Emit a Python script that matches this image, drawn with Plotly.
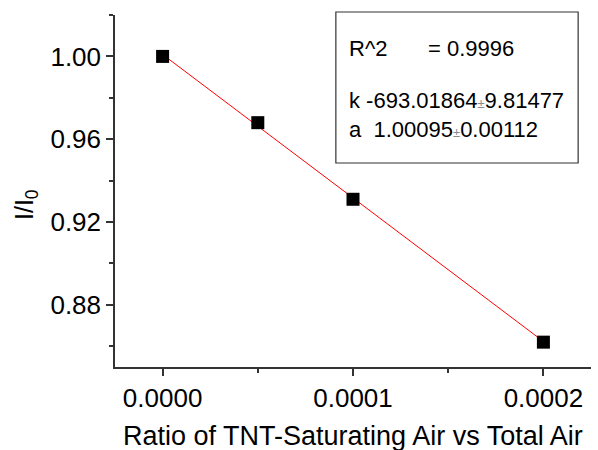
import plotly.graph_objects as go

ratio = [0.0, 0.00005, 0.0001, 0.0002]
intensity = [1.000, 0.968, 0.931, 0.862]
fit_k = -693.01864
fit_a = 1.00095
fit_x = [0.0, 0.0002]
fit_y = [fit_a + fit_k * v for v in fit_x]

FONT = "Liberation Sans, Arial, sans-serif"

fig = go.Figure()
fig.add_trace(go.Scatter(x=fit_x, y=fit_y, mode="lines",
                         line=dict(color="#ff0000", width=1), showlegend=False))
fig.add_trace(go.Scatter(x=ratio, y=intensity, mode="markers",
                         marker=dict(symbol="square", size=13, color="black"),
                         showlegend=False))

fig.update_layout(
    width=598, height=450,
    margin=dict(l=115, r=7, t=15, b=83),
    plot_bgcolor="white", paper_bgcolor="white",
    font=dict(family=FONT, color="black"),
    xaxis=dict(range=[-0.000025, 0.000225], showgrid=False, zeroline=False,
               showline=True, linecolor="#333", linewidth=1.5,
               ticks="outside", ticklen=7, tickwidth=1.5, tickcolor="#333",
               tickvals=[0.0, 0.0001, 0.0002], ticktext=["0.0000", "0.0001", "0.0002"],
               tickfont=dict(size=26),
               minor=dict(tickvals=[0.00005, 0.00015], ticks="outside", ticklen=4,
                          tickwidth=1.5, tickcolor="#333")),
    yaxis=dict(range=[0.85, 1.02], showgrid=False, zeroline=False,
               showline=True, linecolor="#333", linewidth=1.5,
               ticks="outside", ticklen=7, tickwidth=1.5, tickcolor="#333",
               tickvals=[0.88, 0.92, 0.96, 1.00], ticktext=["0.88", "0.92", "0.96", "1.00"],
               tickfont=dict(size=26),
               minor=dict(tickvals=[0.86, 0.90, 0.94, 0.98, 1.02], ticks="outside", ticklen=4,
                          tickwidth=1.5, tickcolor="#333")),
)

# axis titles
fig.add_annotation(xref="paper", yref="paper", x=0.5, y=-(436 - 367) / 352,
                   xanchor="center", yanchor="middle", showarrow=False,
                   text="Ratio of TNT-Saturating Air vs Total Air",
                   font=dict(family=FONT, size=27, color="black"))
fig.add_annotation(xref="paper", yref="paper", x=(26 - 115) / 476, y=1 - (205 - 15) / 352,
                   xanchor="center", yanchor="middle", showarrow=False, textangle=-90,
                   text="I/I<sub>0</sub>",
                   font=dict(family=FONT, size=25, color="black"))

fig.add_shape(type="rect", xref="paper", yref="paper",
              x0=0.464, x1=0.973, y0=0.5795, y1=1.0085,
              line=dict(color="#333", width=1.2), fillcolor="white", layer="above")

pm = "<span style='font-size:13px;color:#888'>±</span>"
ann_font = dict(family=FONT, size=22, color="black")
def py(v):
    return 1 - (v - 15) / 352
fig.add_annotation(xref="paper", yref="paper", x=(347 - 115) / 476, y=py(48), xanchor="left", yanchor="middle",
                   text="R^2", showarrow=False, font=ann_font)
fig.add_annotation(xref="paper", yref="paper", x=(426 - 115) / 476, y=py(48), xanchor="left", yanchor="middle",
                   text="= 0.9996", showarrow=False, font=ann_font)
fig.add_annotation(xref="paper", yref="paper", x=(347 - 115) / 476, y=py(100), xanchor="left", yanchor="middle",
                   text=f"k -693.01864{pm}9.81477", showarrow=False, font=ann_font)
fig.add_annotation(xref="paper", yref="paper", x=(347 - 115) / 476, y=py(129), xanchor="left", yanchor="middle",
                   text=f"a  1.00095{pm}0.00112", showarrow=False, font=ann_font)

fig.write_html("out.html")
